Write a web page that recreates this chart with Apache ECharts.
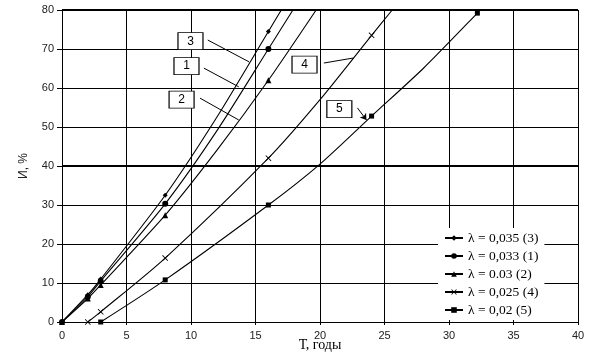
<!DOCTYPE html>
<html><head><meta charset="utf-8">
<script src="https://cdn.jsdelivr.net/npm/echarts@6/dist/echarts.min.js"></script>
<style>html,body{margin:0;padding:0;background:#fff}#c{width:605px;height:356px}</style>
</head><body><div id="c"></div>
<script>
var xTicks = [0,5,10,15,20,25,30,35,40];
var yTicks = [0,10,20,30,40,50,60,70,80];
var names = ['λ = 0,035 (3)','λ = 0,033 (1)','λ = 0.03 (2)','λ = 0,025 (4)','λ = 0,02 (5)'];
var curve3 = [[0,0],[2,7],[3,11],[8,32.5],[12,52.5],[16,74.5],[17,80]];
var curve1 = [[0,0],[2,6.5],[3,10.5],[8,30.3],[12,49],[16,70],[17.9,80]];
var curve2 = [[0,0],[2,6],[3,9.5],[8,27.4],[12,44],[16,62],[19.7,80]];
var curve4 = [[2,0],[3,2.6],[8,16.4],[16,42],[20,57],[24,73.5],[25.6,80]];
var curve5 = [[3,0],[8,10.8],[16,30],[20,40.5],[24,52.8],[28,65],[32.2,79.2],[32.4,80]];
var markX3 = [0,2,3,8,16];
var markX1 = [0,2,3,8,16];
var markX2 = [0,2,3,8,16];
var markX4 = [2,3,8,16,24];
var markX5 = [3,8,16,24,32.2];
var labels = ['3','1','2','4','5'];
var labelPos = [[9.96,72],[9.65,65.6],[9.27,57],[18.8,66],[21.5,54.6]];
var leaders = [[[11.3,72.3],[14.5,66.7]],[[11.0,65.1],[13.7,60.3]],[[10.7,57.4],[13.7,51.8]],[[20.3,66.4],[22.6,67.7]],[[22.9,54.9],[23.6,51.8]]];

var crossSym = 'path://M0,1L1,0L5,4L9,0L10,1L6,5L10,9L9,10L5,6L1,10L0,9L4,5Z';
var syms = ['diamond','circle','triangle',crossSym,'rect'];
var symSizes = [5,6,6,6,5];
var curves = [curve3,curve1,curve2,curve4,curve5];
var marks = [markX3,markX1,markX2,markX4,markX5];

var series = curves.map(function(c,i){
  return {
    name: names[i], type:'line', smooth:0.25, symbol: syms[i], symbolSize: symSizes[i],
    showAllSymbol:true,
    lineStyle:{color:'#000',width:1.1}, itemStyle:{color:'#000'},
    data: c.map(function(p){
      return marks[i].indexOf(p[0])>=0 ? {value:p} : {value:p, symbol:'none'};
    }),
    markPoint:{
      silent:true, symbol:'rect', symbolSize:[25,17],
      itemStyle:{color:'#fff',borderColor:'#000',borderWidth:1},
      label:{show:true,color:'#000',fontFamily:'Liberation Sans',fontSize:12,formatter:labels[i]},
      data:[{coord:labelPos[i], value:labels[i]}]
    },
    markLine:{
      silent:true, symbol: i===4?['none','arrow']:['none','none'], symbolSize:6,
      lineStyle:{color:'#000',width:1,type:'solid'}, label:{show:false},
      data:[[{coord:leaders[i][0]},{coord:leaders[i][1]}]]
    }
  };
});
series.push({
  type:'line', data:[], silent:true,
  markLine:{silent:true, symbol:['none','none'], label:{show:false},
    lineStyle:{color:'#000',width:2.2,type:'solid'},
    data:[{yAxis:40},{yAxis:80}]}
});

var chart = echarts.init(document.getElementById('c'));
chart.setOption({
  animation:false,
  backgroundColor:'#fff',
  grid:{left:62,right:27,top:10,bottom:34,containLabel:false,outerBoundsMode:'none'},
  legend:{
    data:names, orient:'vertical', left:438, top:228, itemGap:4,
    itemWidth:18, itemHeight:7, backgroundColor:'#fff', padding:[3,6,3,6],
    textStyle:{fontFamily:'Liberation Serif',fontSize:13.5,color:'#000'}
  },
  xAxis:{
    type:'value', min:0, max:40, interval:5,
    name:'Т, годы', nameLocation:'middle', nameGap:16, nameMoveOverlap:false,
    nameTextStyle:{fontFamily:'Liberation Serif',fontSize:14,color:'#000'},
    axisLine:{lineStyle:{color:'#000',width:1}},
    axisTick:{show:true,length:3,lineStyle:{color:'#000'}},
    axisLabel:{color:'#222',fontFamily:'Liberation Sans',fontSize:11,margin:8,
      formatter:function(v){return xTicks.indexOf(v)>=0?String(v):'';}},
    splitLine:{show:true,lineStyle:{color:'#000',width:1}}
  },
  yAxis:{
    type:'value', min:0, max:80, interval:10,
    name:'И, %', nameLocation:'middle', nameGap:32, nameRotate:90, nameMoveOverlap:false,
    nameTextStyle:{fontFamily:'Liberation Sans',fontSize:12,color:'#222'},
    axisLine:{show:true,lineStyle:{color:'#000',width:1}},
    axisTick:{show:true,length:5,lineStyle:{color:'#000'}},
    axisLabel:{color:'#222',fontFamily:'Liberation Sans',fontSize:11,margin:8,
      formatter:function(v){return yTicks.indexOf(v)>=0?String(v):'';}},
    splitLine:{show:true,lineStyle:{color:'#000',width:1}}
  },
  series:series
});
</script></body></html>
